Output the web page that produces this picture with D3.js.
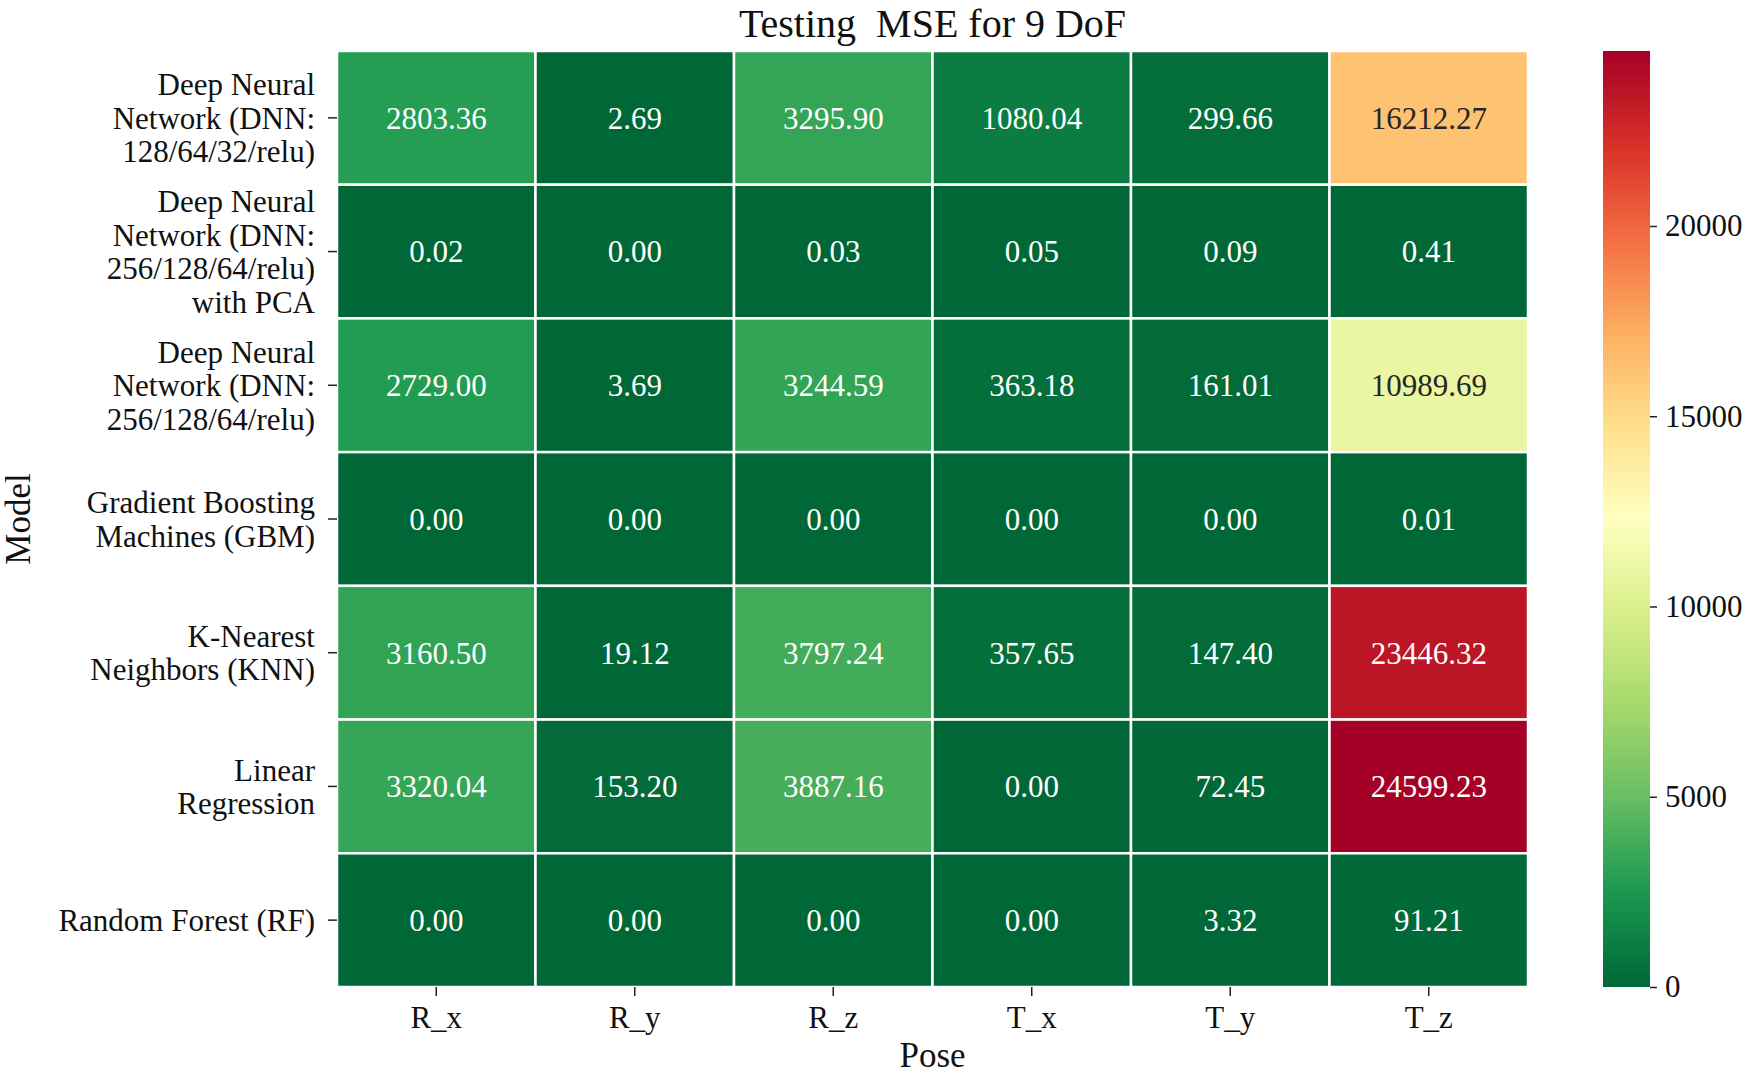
<!DOCTYPE html>
<html>
<head>
<meta charset="utf-8">
<script src="https://cdn.jsdelivr.net/npm/d3@7"></script>
<style>
  body { margin: 0; background: #fff; }
  text { font-family: "Liberation Serif", "DejaVu Serif", serif; fill: #111; }
</style>
</head>
<body>
<div id="chart"></div>
<script>
// data
var models = [
    ["Deep Neural", "Network (DNN:", "128/64/32/relu)"],
    ["Deep Neural", "Network (DNN:", "256/128/64/relu)", "with PCA"],
    ["Deep Neural", "Network (DNN:", "256/128/64/relu)"],
    ["Gradient Boosting", "Machines (GBM)"],
    ["K-Nearest", "Neighbors (KNN)"],
    ["Linear", "Regression"],
    ["Random Forest (RF)"]
];
var poses = ["R_x", "R_y", "R_z", "T_x", "T_y", "T_z"];
var mse = [
    [2803.36, 2.69, 3295.90, 1080.04, 299.66, 16212.27],
    [0.02, 0.00, 0.03, 0.05, 0.09, 0.41],
    [2729.00, 3.69, 3244.59, 363.18, 161.01, 10989.69],
    [0.00, 0.00, 0.00, 0.00, 0.00, 0.01],
    [3160.50, 19.12, 3797.24, 357.65, 147.40, 23446.32],
    [3320.04, 153.20, 3887.16, 0.00, 72.45, 24599.23],
    [0.00, 0.00, 0.00, 0.00, 3.32, 91.21]
];
var cbTicks = [0, 5000, 10000, 15000, 20000];

var W = 1749, H = 1077;
var margin = {top: 51, left: 337, right: 221, bottom: 90};
var width = W - margin.left - margin.right,
    height = H - margin.top - margin.bottom;

var svg = d3.select("#chart").append("svg")
    .attr("width", W)
    .attr("height", H);

var g = svg.append("g")
    .attr("transform", "translate(" + margin.left + "," + margin.top + ")");

var x = d3.scaleBand().domain(poses).range([0, width]);
var y = d3.scaleBand().domain(d3.range(models.length)).range([0, height]);

// RdYlGn_r, linear between the brewer colours like matplotlib
var brewer = d3.schemeRdYlGn[11].slice().reverse();
var vmax = d3.max(mse, function (r) { return d3.max(r); });
var color = d3.scaleLinear()
    .domain(d3.range(11).map(function (i) { return vmax * i / 10; }))
    .range(brewer)
    .interpolate(d3.interpolateRgb);

function lum(c) {
    var rgb = d3.rgb(c);
    var f = function (v) {
        v = v / 255;
        return v <= 0.03928 ? v / 12.92 : Math.pow((v + 0.055) / 1.055, 2.4);
    };
    return 0.2126 * f(rgb.r) + 0.7152 * f(rgb.g) + 0.0722 * f(rgb.b);
}

var cells = [];
mse.forEach(function (row, i) {
    row.forEach(function (v, j) {
        cells.push({r: i, c: j, v: v});
    });
});

g.selectAll(".cell")
    .data(cells)
    .enter().append("rect")
    .attr("class", "cell")
    .attr("x", function (d) { return x(poses[d.c]); })
    .attr("y", function (d) { return y(d.r); })
    .attr("width", x.bandwidth())
    .attr("height", y.bandwidth())
    .attr("fill", function (d) { return color(d.v); })
    .attr("stroke", "#fff")
    .attr("stroke-width", 2.5);

g.selectAll(".annot")
    .data(cells)
    .enter().append("text")
    .attr("class", "annot")
    .attr("x", function (d) { return x(poses[d.c]) + x.bandwidth() / 2; })
    .attr("y", function (d) { return y(d.r) + y.bandwidth() / 2; })
    .attr("text-anchor", "middle")
    .attr("dy", "0.35em")
    .attr("font-size", 31)
    .style("fill", function (d) { return lum(color(d.v)) > 0.408 ? "#262626" : "#fff"; })
    .text(function (d) { return d.v.toFixed(2); });

// x axis
var xAxis = g.append("g")
    .attr("transform", "translate(0," + height + ")")
    .call(d3.axisBottom(x).tickSize(9).tickPadding(10));
xAxis.select(".domain").remove();
xAxis.selectAll("text").attr("font-size", 31).style("fill", "#111");
xAxis.selectAll("line").attr("stroke", "#222").attr("stroke-width", 1.5);

// y axis with wrapped labels
var yAxis = g.append("g")
    .call(d3.axisLeft(y).tickSize(9).tickPadding(9).tickFormat(""));
yAxis.select(".domain").remove();
yAxis.selectAll("line").attr("stroke", "#222").attr("stroke-width", 1.5);
var lineH = 33.5;
yAxis.selectAll(".tick").each(function (d) {
    var lines = models[d];
    var t = d3.select(this).select("text")
        .attr("font-size", 31)
        .attr("text-anchor", "end")
        .style("fill", "#111");
    t.attr("dy", null);
    lines.forEach(function (s, k) {
        t.append("tspan")
            .attr("x", -22)
            .attr("y", (k - (lines.length - 1) / 2) * lineH)
            .attr("dy", "0.35em")
            .text(s);
    });
});

// axis titles
svg.append("text")
    .attr("x", margin.left + width / 2)
    .attr("y", 1067)
    .attr("text-anchor", "middle")
    .attr("font-size", 35)
    .text("Pose");

svg.append("text")
    .attr("transform", "translate(30," + (margin.top + height / 2) + ") rotate(-90)")
    .attr("text-anchor", "middle")
    .attr("font-size", 35)
    .text("Model");

svg.append("text")
    .attr("x", margin.left + width / 2)
    .attr("y", 37)
    .attr("text-anchor", "middle")
    .attr("font-size", 40)
    .style("white-space", "pre")
    .text("Testing  MSE for 9 DoF");

// colorbar
var cbX = 1603, cbW = 47;
var cScale = d3.scaleLinear().domain([0, vmax]).range([margin.top + height, margin.top]);
var defs = svg.append("defs");
var grad = defs.append("linearGradient")
    .attr("id", "cbgrad")
    .attr("x1", 0).attr("y1", 1).attr("x2", 0).attr("y2", 0);
d3.range(0, 1.0001, 0.02).forEach(function (t) {
    grad.append("stop")
        .attr("offset", t)
        .attr("stop-color", color(t * vmax));
});
svg.append("rect")
    .attr("x", cbX)
    .attr("y", margin.top)
    .attr("width", cbW)
    .attr("height", height)
    .attr("fill", "url(#cbgrad)");

var cbAxis = svg.append("g")
    .attr("transform", "translate(" + (cbX + cbW) + ",0)")
    .call(d3.axisRight(cScale).tickValues(cbTicks).tickSize(7).tickPadding(8).tickFormat(d3.format("d")));
cbAxis.select(".domain").remove();
cbAxis.selectAll("text").attr("font-size", 31).style("fill", "#111");
cbAxis.selectAll("line").attr("stroke", "#222").attr("stroke-width", 1.5);
</script>
</body>
</html>
